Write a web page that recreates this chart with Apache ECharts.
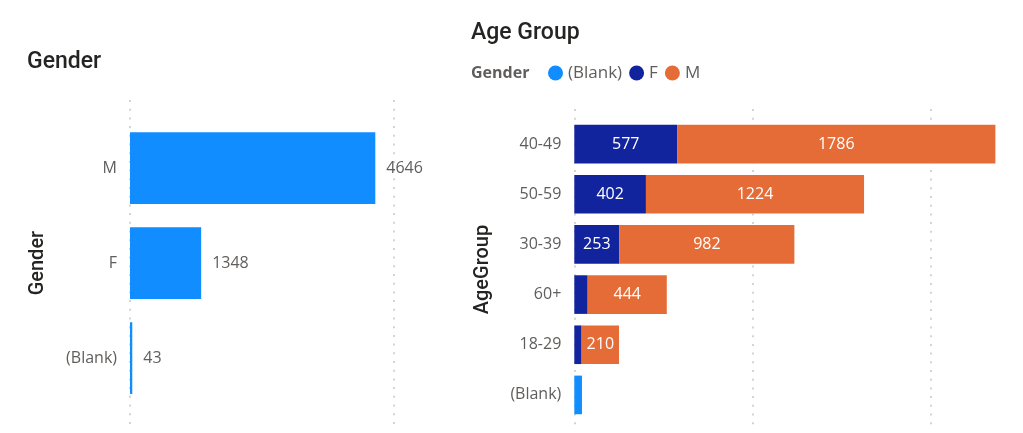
<!DOCTYPE html>
<html>
<head>
<meta charset="utf-8">
<script src="https://cdn.jsdelivr.net/npm/echarts@6/dist/echarts.min.js"></script>
<style>
html,body{margin:0;padding:0;background:#fff;}
#chart{width:1023px;height:433px;}
</style>
</head>
<body>
<div id="chart"></div>
<script>
// ---- data ----
const genderCats = ['M', 'F', '(Blank)'];
const genderCounts = [4646, 1348, 43];

const ageCats = ['40-49', '50-59', '30-39', '60+', '18-29', '(Blank)'];
const ageBlank = [null, null, null, null, null, 43];
const ageF = [577, 402, 253, 75, 41, null];
const ageM = [1786, 1224, 982, 444, 210, null];

const legendNames = ['(Blank)', 'F', 'M'];
const genderTicks = [0, 5000];
const ageTicks = [0, 1000, 2000];
const ageAxisMax = 2400;

// ---- styling ----
const C_BLANK = '#118DFF', C_F = '#12239E', C_M = '#E66C37';
const GRAY = '#605E5C';
const BODY = 'Open Sans';
const HEAD = 'Roboto';

const dottedGender = {
  show: true,
  lineStyle: { color: '#C8C6C4', width: 1.5, type: [2, 6.7] }
};
const dottedAge = {
  show: true, showMaxLine: false,
  lineStyle: { color: ['#C8C6C4', '#C8C6C4', '#C8C6C4', 'rgba(0,0,0,0)'], width: 1.5, type: [2, 6.7] }
};

const chart = echarts.init(document.getElementById('chart'), null, { renderer: 'canvas' });

const inLabel = {
  show: true, position: 'inside', color: '#FFFFFF',
  fontFamily: BODY, fontSize: 16,
  formatter: p => (p.value >= 150 ? String(p.value) : '')
};

const ageLeft = 574.3, agePxPerUnit = 0.1782;

chart.setOption({
  animation: false,
  backgroundColor: '#FFFFFF',
  title: [
    { text: 'Gender', left: 27, top: 51, padding: 0,
      textStyle: { fontFamily: HEAD, fontSize: 23, fontWeight: 500, color: '#252423' } },
    { text: 'Age Group', left: 471, top: 22, padding: 0,
      textStyle: { fontFamily: HEAD, fontSize: 23, fontWeight: 500, color: '#252423' } },
    { text: 'Gender', left: 471, top: 65, padding: 0,
      textStyle: { fontFamily: BODY, fontSize: 16, fontWeight: 'bold', color: GRAY } }
  ],
  legend: {
    data: legendNames,
    left: 548, top: 64.5, padding: 0,
    icon: 'circle', itemWidth: 15, itemHeight: 15, itemGap: 7,
    textStyle: { fontFamily: BODY, fontSize: 17, color: GRAY }
  },
  grid: [
    { left: 130, width: 264, top: 120.6, height: 285 },
    { left: 130, width: 264, top: 100, height: 327 },
    { left: ageLeft, width: ageAxisMax * agePxPerUnit, top: 119, height: 301 },
    { left: ageLeft, width: ageAxisMax * agePxPerUnit, top: 109, height: 318 }
  ],
  xAxis: [
    { gridIndex: 0, type: 'value', min: genderTicks[0], max: genderTicks[genderTicks.length - 1], show: false },
    { gridIndex: 1, type: 'value', min: genderTicks[0], max: genderTicks[genderTicks.length - 1],
      interval: genderTicks[1] - genderTicks[0],
      axisLine: { show: false }, axisTick: { show: false }, axisLabel: { show: false }, splitLine: dottedGender },
    { gridIndex: 2, type: 'value', min: 0, max: ageAxisMax, show: false },
    { gridIndex: 3, type: 'value', min: ageTicks[0], max: ageAxisMax,
      interval: ageTicks[1] - ageTicks[0],
      axisLine: { show: false }, axisTick: { show: false }, axisLabel: { show: false }, splitLine: dottedAge }
  ],
  yAxis: [
    { gridIndex: 0, type: 'category', data: genderCats, inverse: true,
      axisLine: { show: false }, axisTick: { show: false }, splitLine: { show: false },
      axisLabel: { margin: 13, fontFamily: BODY, fontSize: 16, color: GRAY },
      name: 'Gender', nameLocation: 'middle', nameRotate: 90, nameGap: 82,
      nameTextStyle: { fontFamily: HEAD, fontSize: 20, fontWeight: 500, color: '#252423' } },
    { gridIndex: 1, type: 'value', min: 0, max: 1, show: false },
    { gridIndex: 2, type: 'category', data: ageCats, inverse: true,
      axisLine: { show: false }, axisTick: { show: false }, splitLine: { show: false },
      axisLabel: { margin: 13, fontFamily: BODY, fontSize: 16, color: GRAY },
      name: 'AgeGroup', nameLocation: 'middle', nameRotate: 90, nameGap: 81,
      nameTextStyle: { fontFamily: HEAD, fontSize: 20, fontWeight: 500, color: '#252423' } },
    { gridIndex: 3, type: 'value', min: 0, max: 1, show: false }
  ],
  series: [
    { type: 'bar', xAxisIndex: 0, yAxisIndex: 0, data: genderCounts,
      barCategoryGap: '24.5%', itemStyle: { color: C_BLANK },
      label: { show: true, position: 'right', distance: 11, fontFamily: BODY, fontSize: 16, color: GRAY } },
    { type: 'scatter', xAxisIndex: 1, yAxisIndex: 1, data: [], silent: true },
    { type: 'scatter', xAxisIndex: 3, yAxisIndex: 3, data: [], silent: true },
    { name: legendNames[0], type: 'bar', stack: 'age', xAxisIndex: 2, yAxisIndex: 2, data: ageBlank,
      barCategoryGap: '23%', itemStyle: { color: C_BLANK }, label: { show: false } },
    { name: legendNames[1], type: 'bar', stack: 'age', xAxisIndex: 2, yAxisIndex: 2, data: ageF,
      barCategoryGap: '23%', itemStyle: { color: C_F }, label: inLabel },
    { name: legendNames[2], type: 'bar', stack: 'age', xAxisIndex: 2, yAxisIndex: 2, data: ageM,
      barCategoryGap: '23%', itemStyle: { color: C_M }, label: inLabel }
  ]
});
</script>
</body>
</html>
